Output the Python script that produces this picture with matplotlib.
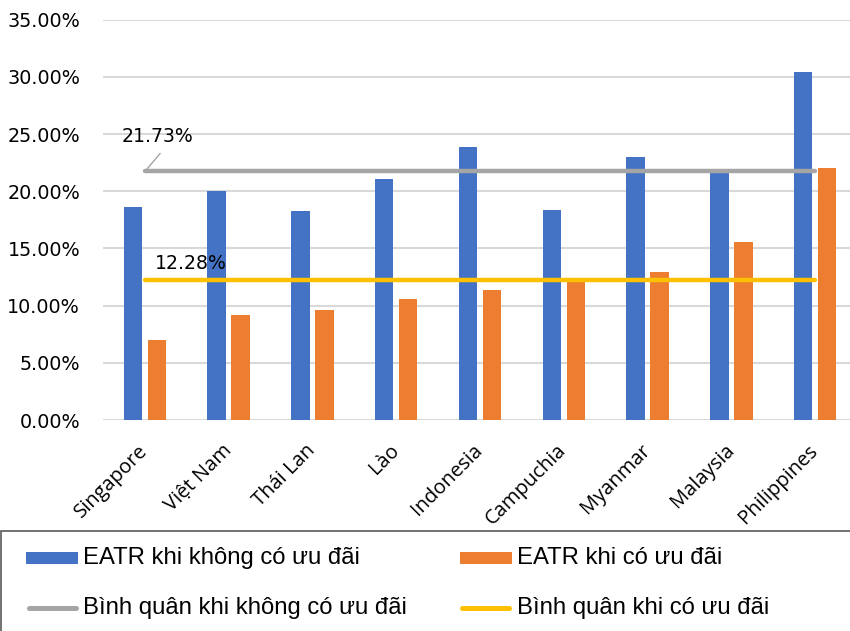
import matplotlib
matplotlib.use("Agg")
import matplotlib.pyplot as plt
from matplotlib.lines import Line2D
from matplotlib.patches import Rectangle
from matplotlib.ticker import FuncFormatter, MultipleLocator

categories = ["Singapore", "Việt Nam", "Thái Lan", "Lào", "Indonesia",
              "Campuchia", "Myanmar", "Malaysia", "Philippines"]
eatr_no_incentive = [18.6, 20.0, 18.3, 21.1, 23.9, 18.4, 23.0, 21.8, 30.4]
eatr_incentive = [7.0, 9.2, 9.6, 10.6, 11.4, 12.2, 12.9, 15.6, 22.0]
avg_no_incentive = 21.73
avg_incentive = 12.28
series_names = ["EATR khi không có ưu đãi", "EATR khi có ưu đãi",
                "Bình quân khi không có ưu đãi", "Bình quân khi có ưu đãi"]

BLUE = "#4472C4"
ORANGE = "#ED7D31"
GRAY = "#A5A5A5"
YELLOW = "#FFC000"

plt.rcParams['font.family'] = ['DejaVu Sans']

W, H = 850, 631
fig = plt.figure(figsize=(W / 100, H / 100), dpi=100)
ax = fig.add_axes([103 / W, 1 - 420 / H, 754 / W, (420 - 19.7) / H])

x = list(range(len(categories)))
bw = 0.22
off = 0.143
ax.bar([i - off for i in x], eatr_no_incentive, width=bw, color=BLUE, zorder=2)
ax.bar([i + off for i in x], eatr_incentive, width=bw, color=ORANGE, zorder=2)
ax.plot(x, [avg_no_incentive] * len(x), color=GRAY, lw=3.2,
        solid_capstyle='round', zorder=3)
ax.plot(x, [avg_incentive] * len(x), color=YELLOW, lw=3.2,
        solid_capstyle='round', zorder=3)

# data label for the average line, with a leader line
ax.annotate("", xy=(0, avg_no_incentive), xytext=(11, 13),
            textcoords='offset points',
            arrowprops=dict(arrowstyle='-', color=GRAY, lw=1,
                            shrinkA=0, shrinkB=0), zorder=4)
ax.text(0.15, 24.8, f"{avg_no_incentive:.2f}%", ha='center', va='center',
        fontsize=13.6, zorder=4)
ax.text(0.55, 13.7, f"{avg_incentive:.2f}%", ha='center', va='center',
        fontsize=13.6, zorder=4)

ax.set_xlim(-0.5, 8.5)
ax.set_ylim(0, 35)
ax.yaxis.set_major_locator(MultipleLocator(5))
ax.yaxis.set_major_formatter(FuncFormatter(lambda v, p: f"{v:.2f}%"))
ax.grid(axis='y', color='#D9D9D9', lw=1.5, zorder=0)
ax.set_axisbelow(True)
for s in ax.spines.values():
    s.set_visible(False)
ax.tick_params(axis='y', length=0, pad=16.5, labelsize=13.8)
ax.tick_params(axis='x', length=0, pad=20)
ax.set_xticks(x)
ax.set_xticklabels(categories, rotation=45, ha='right', va='center',
                   rotation_mode='anchor', fontsize=14.5,
                   family=['Open Sans', 'DejaVu Sans'])

# legend box (top and left border visible)
fig.add_artist(Rectangle((0.6 / W, -0.1), 1.1, (H - 531) / H + 0.1,
                         transform=fig.transFigure, fill=False,
                         edgecolor='#595959', lw=1.2))


def fx(px):
    return px / W


def fy(py):
    return 1 - py / H


legend_items = [
    ("patch", BLUE, 26, 558, 564),
    ("patch", ORANGE, 460, 558, 564),
    ("line", GRAY, 26, 608, 614),
    ("line", YELLOW, 460, 608, 614),
]
for (kind, col, px, cy, base), name in zip(legend_items, series_names):
    if kind == "patch":
        fig.add_artist(Rectangle((fx(px), fy(cy + 6)), 52 / W, 12 / H,
                                 transform=fig.transFigure, color=col, lw=0))
    else:
        fig.add_artist(Line2D([fx(px + 2.5), fx(px + 49.5)], [fy(cy), fy(cy)],
                              transform=fig.transFigure, color=col, lw=3.6,
                              solid_capstyle='round'))
    fig.text(fx(px + 57), fy(base), name, ha='left', va='baseline',
             fontsize=17.2, family=['Liberation Sans', 'DejaVu Sans'])

fig.savefig("out.png", dpi=100)
